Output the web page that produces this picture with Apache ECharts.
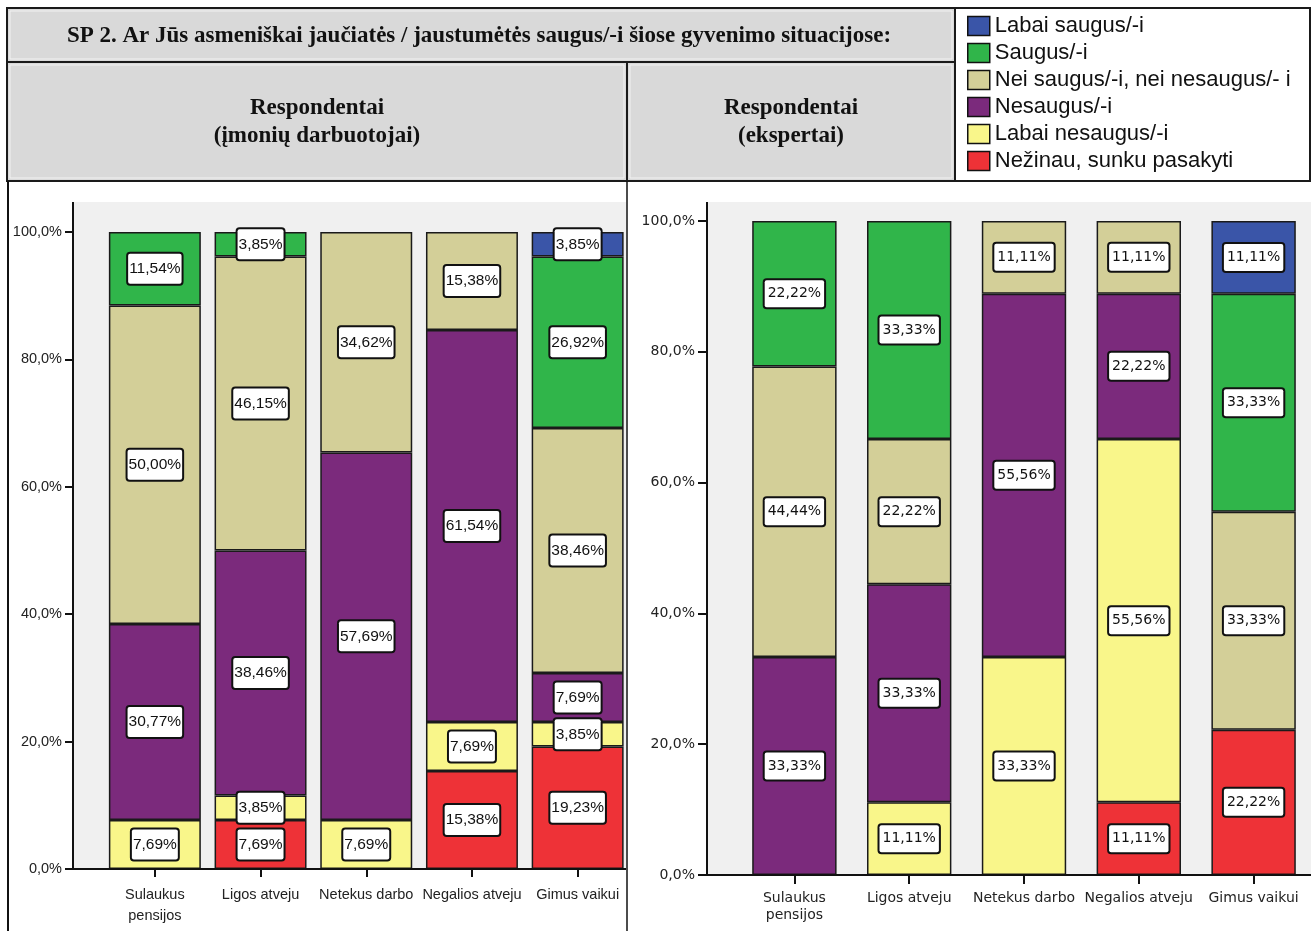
<!DOCTYPE html>
<html>
<head>
<meta charset="utf-8">
<title>SP 2</title>
<script src="https://cdn.jsdelivr.net/npm/echarts@6/dist/echarts.min.js"></script>
<style>
  html, body { margin: 0; padding: 0; background: #ffffff; }
  #chart { width: 1311px; height: 931px; }
</style>
</head>
<body>
<div id="chart"></div>
<script>
// Situations (x-axis categories)
const categories = ['Sulaukus\npensijos', 'Ligos atveju', 'Netekus darbo', 'Negalios atveju', 'Gimus vaikui'];

// Answer options, bottom of the stack first
const answerNames = [
  'Nežinau, sunku pasakyti',
  'Labai nesaugus/-i',
  'Nesaugus/-i',
  'Nei saugus/-i, nei nesaugus/- i',
  'Saugus/-i',
  'Labai saugus/-i'
];
const answerColors = ['#ee3237', '#f9f68a', '#7b2a7c', '#d3cf98', '#30b54a', '#3a55a8'];

// Y-axis ticks (percent)
const yTicks = [0, 20, 40, 60, 80, 100];

// Respondents: company employees (%)
const darbNezinau        = [0,     7.69,  0,     15.38, 19.23];
const darbLabaiNesaugus  = [7.69,  3.85,  7.69,  7.69,  3.85];
const darbNesaugus       = [30.77, 38.46, 57.69, 61.54, 7.69];
const darbNei            = [50.00, 46.15, 34.62, 15.38, 38.46];
const darbSaugus         = [11.54, 3.85,  0,     0,     26.92];
const darbLabaiSaugus    = [0,     0,     0,     0,     3.85];

// Respondents: experts (%)
const ekspNezinau        = [0,     0,     0,     11.11, 22.22];
const ekspLabaiNesaugus  = [0,     11.11, 33.33, 55.56, 0];
const ekspNesaugus       = [33.33, 33.33, 55.56, 22.22, 0];
const ekspNei            = [44.44, 22.22, 11.11, 11.11, 33.33];
const ekspSaugus         = [22.22, 33.33, 0,     0,     33.33];
const ekspLabaiSaugus    = [0,     0,     0,     0,     11.11];

const darbData = [darbNezinau, darbLabaiNesaugus, darbNesaugus, darbNei, darbSaugus, darbLabaiSaugus];
const ekspData = [ekspNezinau, ekspLabaiNesaugus, ekspNesaugus, ekspNei, ekspSaugus, ekspLabaiSaugus];

const ARIAL = "'Liberation Sans', Arial, sans-serif";
const PLAIN = "'DejaVu Sans', Verdana, sans-serif";
const SERIF = "'Liberation Serif', 'Times New Roman', serif";

const pct = (v, d) => v.toFixed(d).replace('.', ',') + '%';

function makeSeries(dataSets, axisIndex, stackId, barWidth, labelFont) {
  return dataSets.map((vals, i) => ({
    name: answerNames[i],
    type: 'bar',
    stack: stackId,
    xAxisIndex: axisIndex,
    yAxisIndex: axisIndex,
    barWidth: barWidth,
    data: vals.map(v => (v > 0 ? v : null)),
    itemStyle: { color: answerColors[i], borderColor: '#1a1a1a', borderWidth: 1.5 },
    label: Object.assign({
      show: true,
      position: 'inside',
      formatter: p => pct(p.value, 2),
      color: '#111',
      backgroundColor: '#ffffff',
      borderColor: '#111',
      borderWidth: 2,
      borderRadius: 2
    }, labelFont),
    emphasis: { disabled: true }
  }));
}

const series = []
  .concat(makeSeries(darbData, 0, 'darb', '87%', { fontFamily: ARIAL, fontSize: 15.5, lineHeight: 21, padding: [5, 1, 4, 1] }))
  .concat(makeSeries(ekspData, 1, 'eksp', '73.5%', { fontFamily: PLAIN, fontSize: 14, lineHeight: 18, padding: [5, 3, 4, 3] }));

function headerCell(x, y, w, h) {
  return [
    { type: 'rect', shape: { x: x, y: y, width: w, height: h }, style: { fill: '#d9d9d9', stroke: '#1a1a1a', lineWidth: 2 }, z: 1 },
    { type: 'rect', shape: { x: x + 3, y: y + 3, width: w - 6, height: h - 6 }, style: { fill: 'none', stroke: '#f2f2f2', lineWidth: 1 }, z: 1 }
  ];
}
function headText(txt, x, y, size) {
  return { type: 'text', x: x, y: y, z: 5,
    style: { text: txt, font: 'bold ' + size + 'px ' + SERIF, fill: '#111', align: 'center', verticalAlign: 'middle', textAlign: 'center', textVerticalAlign: 'middle' } };
}
function line(x1, y1, x2, y2, w) {
  return { type: 'line', z: 50, shape: { x1: x1, y1: y1, x2: x2, y2: y2 }, style: { stroke: '#111', lineWidth: w } };
}

const graphics = []
  // plot backgrounds
  .concat([
    { type: 'rect', z: -10, shape: { x: 73, y: 202, width: 553, height: 667 }, style: { fill: '#f0f0f0' } },
    { type: 'rect', z: -10, shape: { x: 707, y: 202, width: 604, height: 673 }, style: { fill: '#f0f0f0' } }
  ])
  // header table
  .concat(headerCell(7, 8, 948, 54))
  .concat(headerCell(7, 62, 620, 119))
  .concat(headerCell(627, 62, 328, 119))
  .concat([
    { type: 'rect', z: 1, shape: { x: 955, y: 8, width: 355, height: 173 }, style: { fill: '#ffffff', stroke: '#1a1a1a', lineWidth: 2 } },
    headText('SP 2. Ar Jūs asmeniškai jaučiatės / jaustumėtės saugus/-i šiose gyvenimo situacijose:', 479, 36, 23),
    headText('Respondentai', 317, 108, 23),
    headText('(įmonių darbuotojai)', 317, 136, 23),
    headText('Respondentai', 791, 108, 23),
    headText('(ekspertai)', 791, 136, 23)
  ])
  // frame lines and axis lines
  .concat([
    line(8, 181, 8, 931, 2),
    line(627, 181, 627, 931, 1.5),
    line(73, 202, 73, 869, 2),
    line(72, 869, 626, 869, 2),
    line(707, 202, 707, 875, 2),
    line(706, 875, 1311, 875, 2)
  ]);

const option = {
  animation: false,
  backgroundColor: '#ffffff',
  legend: {
    data: answerNames.slice().reverse(),
    orient: 'vertical',
    left: 967,
    top: 15,
    padding: 0,
    icon: 'rect',
    itemWidth: 22,
    itemHeight: 19,
    itemGap: 5,
    selectedMode: false,
    itemStyle: { borderColor: '#111', borderWidth: 1.5 },
    textStyle: { fontFamily: ARIAL, fontSize: 22, color: '#111', lineHeight: 22 },
    z: 10
  },
  grid: [
    { left: 102, top: 232, width: 528.5, height: 637 },
    { left: 737, top: 221, width: 578, height: 654 }
  ],
  xAxis: [
    {
      type: 'category', gridIndex: 0, data: categories,
      axisLine: { show: false },
      axisTick: { show: true, alignWithLabel: true, length: 8, lineStyle: { color: '#111', width: 2 } },
      axisLabel: { interval: 0, margin: 15, color: '#222', fontFamily: ARIAL, fontSize: 14.5, lineHeight: 21 }
    },
    {
      type: 'category', gridIndex: 1, data: categories,
      axisLine: { show: false },
      axisTick: { show: true, alignWithLabel: true, length: 9, lineStyle: { color: '#111', width: 2 } },
      axisLabel: { interval: 0, margin: 15, color: '#222', fontFamily: PLAIN, fontSize: 14, lineHeight: 17 }
    }
  ],
  yAxis: [
    {
      type: 'value', gridIndex: 0, min: yTicks[0], max: yTicks[yTicks.length - 1], interval: yTicks[1] - yTicks[0],
      offset: 29,
      axisLine: { show: false },
      axisTick: { show: true, length: 8, lineStyle: { color: '#111', width: 2 } },
      splitLine: { show: false },
      axisLabel: { margin: 11, formatter: v => pct(v, 1), color: '#222', fontFamily: ARIAL, fontSize: 14.5 }
    },
    {
      type: 'value', gridIndex: 1, min: yTicks[0], max: yTicks[yTicks.length - 1], interval: yTicks[1] - yTicks[0],
      offset: 30,
      axisLine: { show: false },
      axisTick: { show: true, length: 9, lineStyle: { color: '#111', width: 2 } },
      splitLine: { show: false },
      axisLabel: { margin: 12, formatter: v => pct(v, 1), color: '#222', fontFamily: PLAIN, fontSize: 14 }
    }
  ],
  series: series,
  graphic: { elements: graphics }
};

const chart = echarts.init(document.getElementById('chart'), null, { renderer: 'canvas' });
chart.setOption(option);
</script>
</body>
</html>
